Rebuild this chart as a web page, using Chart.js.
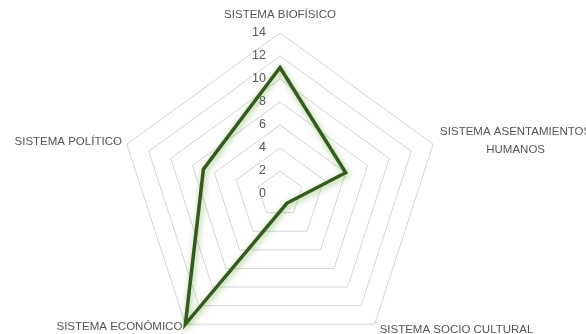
<!DOCTYPE html>
<html lang="es">
<head>
<meta charset="utf-8">
<title>Sistemas</title>
<script src="https://cdn.jsdelivr.net/npm/chart.js@4.4.0/dist/chart.umd.min.js"></script>
<style>
  html, body { margin: 0; padding: 0; background: #fff; }
  #contenedor { width: 586px; height: 334px; }
</style>
</head>
<body>
<div id="contenedor"><canvas id="graficoSistemas" width="586" height="334"></canvas></div>
<script>
const sistemas = [
    "SISTEMA BIOFÍSICO",
    ["SISTEMA ASENTAMIENTOS", "HUMANOS"],
    "SISTEMA SOCIO CULTURAL",
    "SISTEMA ECONÓMICO",
    "SISTEMA POLÍTICO"
];
const puntajes = [11, 6, 1, 14, 7];
const marcasEje = [0, 2, 4, 6, 8, 10, 12, 14];

// desplazamiento y alineación de cada rótulo respecto a su vértice
const rotulos = [
    { dx: 0, dy: -18, align: "center" },
    { dx: 7, dy: -3, align: "left" },
    { dx: 5, dy: 6, align: "left" },
    { dx: -3, dy: 3, align: "right" },
    { dx: -5, dy: -2, align: "right" }
];

const colorTexto = "#555555";

// rótulos de los ejes y números de la escala dibujados a mano
const textosRadar = {
    id: "textosRadar",
    beforeDatasetsDraw(chart) {
        const escala = chart.scales.r;
        const ctx = chart.ctx;
        ctx.save();
        ctx.fillStyle = colorTexto;
        ctx.font = "12.5px 'Liberation Sans', Arial, sans-serif";
        ctx.textAlign = "right";
        ctx.textBaseline = "middle";
        marcasEje.forEach(valor => {
            const y = escala.yCenter - escala.getDistanceFromCenterForValue(valor);
            ctx.fillText(String(valor), escala.xCenter - 14, y);
        });

        ctx.font = "11.5px 'Liberation Sans', Arial, sans-serif";
        chart.data.labels.forEach((etiqueta, i) => {
            const pos = escala.getPointPosition(i, escala.drawingArea);
            const r = rotulos[i];
            const lineas = Array.isArray(etiqueta) ? etiqueta : [etiqueta];
            const ancho = Math.max(...lineas.map(l => ctx.measureText(l).width));
            const alto = 18;
            let x = pos.x + r.dx;
            let y = pos.y + r.dy - (lineas.length - 1) * alto / 2;
            if (lineas.length > 1) {
                ctx.textAlign = "center";
                if (r.align === "left") x += ancho / 2;
                if (r.align === "right") x -= ancho / 2;
            } else {
                ctx.textAlign = r.align;
            }
            lineas.forEach((l, k) => ctx.fillText(l, x, y + k * alto));
        });
        ctx.restore();
    },
    beforeDatasetDraw(chart) {
        const ctx = chart.ctx;
        ctx.save();
        ctx.shadowColor = "rgba(112, 173, 71, 0.7)";
        ctx.shadowBlur = 6;
        ctx.shadowOffsetX = 1;
        ctx.shadowOffsetY = 2;
    },
    afterDatasetDraw(chart) {
        chart.ctx.restore();
    }
};

new Chart(document.getElementById("graficoSistemas"), {
    type: "radar",
    data: {
        labels: sistemas,
        datasets: [{
            label: "Puntaje",
            data: puntajes,
            borderColor: "#345a1f",
            borderWidth: 3.5,
            backgroundColor: "transparent",
            fill: false,
            pointRadius: 0,
            pointHoverRadius: 0,
            tension: 0,
            clip: false
        }]
    },
    options: {
        responsive: false,
        animation: false,
        events: [],
        plugins: {
            legend: { display: false },
            tooltip: { enabled: false }
        },
        scales: {
            r: {
                min: 0,
                max: 14,
                ticks: {
                    stepSize: 2,
                    display: false
                },
                grid: {
                    color: "#d3d3d3",
                    lineWidth: 1
                },
                angleLines: { display: false },
                pointLabels: { display: false },
                afterFit(escala) {
                    escala.xCenter = 280;
                    escala.yCenter = 194;
                    escala.drawingArea = 161;
                }
            }
        }
    },
    plugins: [textosRadar]
});
</script>
</body>
</html>
